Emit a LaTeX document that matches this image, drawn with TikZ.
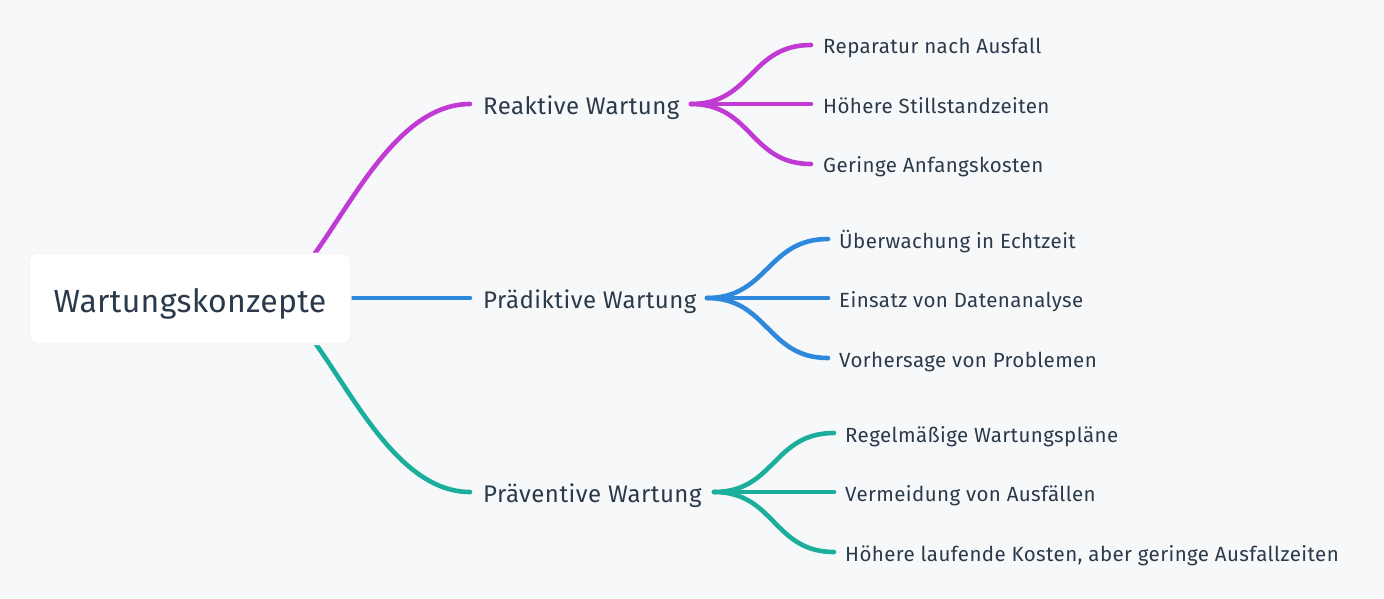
\documentclass[tikz,border=0pt]{standalone}
\usepackage{fontspec}
\setmainfont{Fira Sans}
\newfontfamily\rootfont[LetterSpace=1]{Fira Sans}
\newfontfamily\brfont[LetterSpace=2]{Fira Sans}
\newfontfamily\lffont[LetterSpace=2]{Fira Sans}
\usetikzlibrary{calc}
\definecolor{bg}{HTML}{F7F8FA}
\definecolor{txt}{HTML}{2B3A4A}
\definecolor{cpur}{HTML}{C13AD3}
\definecolor{cblu}{HTML}{2E88DB}
\definecolor{cgrn}{HTML}{1AAE9B}
\begin{document}
\begin{tikzpicture}[x=1pt,y=-1pt,
  edge/.style={line width=4.6pt,line cap=round},
  rootbox/.style={fill=white,rounded corners=8pt,inner sep=0pt,minimum width=320pt,minimum height=89pt},
  branch/.style={anchor=base west,inner sep=0pt,text=txt,font=\brfont\fontsize{24}{28}\selectfont},
  leaf/.style={anchor=base west,inner sep=0pt,text=txt,font=\lffont\fontsize{20.5}{24}\selectfont}]
\useasboundingbox[fill=bg] (0,0) rectangle (1384,598);
% branches texts
\node[branch] (rk) at (483,114) {Reaktive Wartung};
\node[branch] (pd) at (483,308) {Prädiktive Wartung};
\node[branch] (pv) at (483,502) {Präventive Wartung};
% leaves
\node[leaf] (r1) at (823,53.5) {Reparatur nach Ausfall};
\node[leaf] (r2) at (823,113) {Höhere Stillstandzeiten};
\node[leaf] (r3) at (823,172.5) {Geringe Anfangskosten};
\node[leaf] (p1) at (839,248) {Überwachung in Echtzeit};
\node[leaf] (p2) at (839,307.5) {Einsatz von Datenanalyse};
\node[leaf] (p3) at (839,367.5) {Vorhersage von Problemen};
\node[leaf] (v1) at (845,442) {Regelmäßige Wartungspläne};
\node[leaf] (v2) at (845,501.5) {Vermeidung von Ausfällen};
\node[leaf] (v3) at (845,561) {Höhere laufende Kosten, aber geringe Ausfallzeiten};
% anchor coordinates
\coordinate (rs) at (260,298);
\coordinate (rkin) at (470,104);
\coordinate (pdin) at (470,298);
\coordinate (pvin) at (470,492);
\coordinate (rkout) at (691,104);
\coordinate (pdout) at (707,298);
\coordinate (pvout) at (714,492);
\coordinate (r1in) at (811,45);
\coordinate (r2in) at (811,104);
\coordinate (r3in) at (811,164);
\coordinate (p1in) at (828,239);
\coordinate (p2in) at (828,298);
\coordinate (p3in) at (828,358);
\coordinate (v1in) at (834,433);
\coordinate (v2in) at (834,492);
\coordinate (v3in) at (834,552);
% main connectors
\draw[edge,cpur] (rs) .. controls (320,298) and (370,104) .. (rkin);
\draw[edge,cgrn] (rs) .. controls (320,298) and (370,492) .. (pvin);
\draw[edge,cblu] (rs) -- (pdin);
% root box
\fill[black!4,rounded corners=9pt] (28.5,252.5) rectangle (351.5,345);
\node[rootbox] (root) at (190,298.5) {};
\node[anchor=base,inner sep=0pt,text=txt,font=\rootfont\fontsize{32}{36}\selectfont] (roottxt) at (190,312) {Wartungskonzepte};
% sub connectors
\draw[edge,cpur] (rkout) .. controls (752,104) and (750,45) .. (r1in);
\draw[edge,cpur] (rkout) -- (r2in);
\draw[edge,cpur] (rkout) .. controls (752,104) and (750,164) .. (r3in);
\draw[edge,cblu] (pdout) .. controls (768,298) and (767,239) .. (p1in);
\draw[edge,cblu] (pdout) -- (p2in);
\draw[edge,cblu] (pdout) .. controls (768,298) and (767,358) .. (p3in);
\draw[edge,cgrn] (pvout) .. controls (775,492) and (773,433) .. (v1in);
\draw[edge,cgrn] (pvout) -- (v2in);
\draw[edge,cgrn] (pvout) .. controls (775,492) and (773,552) .. (v3in);
\end{tikzpicture}
\end{document}
